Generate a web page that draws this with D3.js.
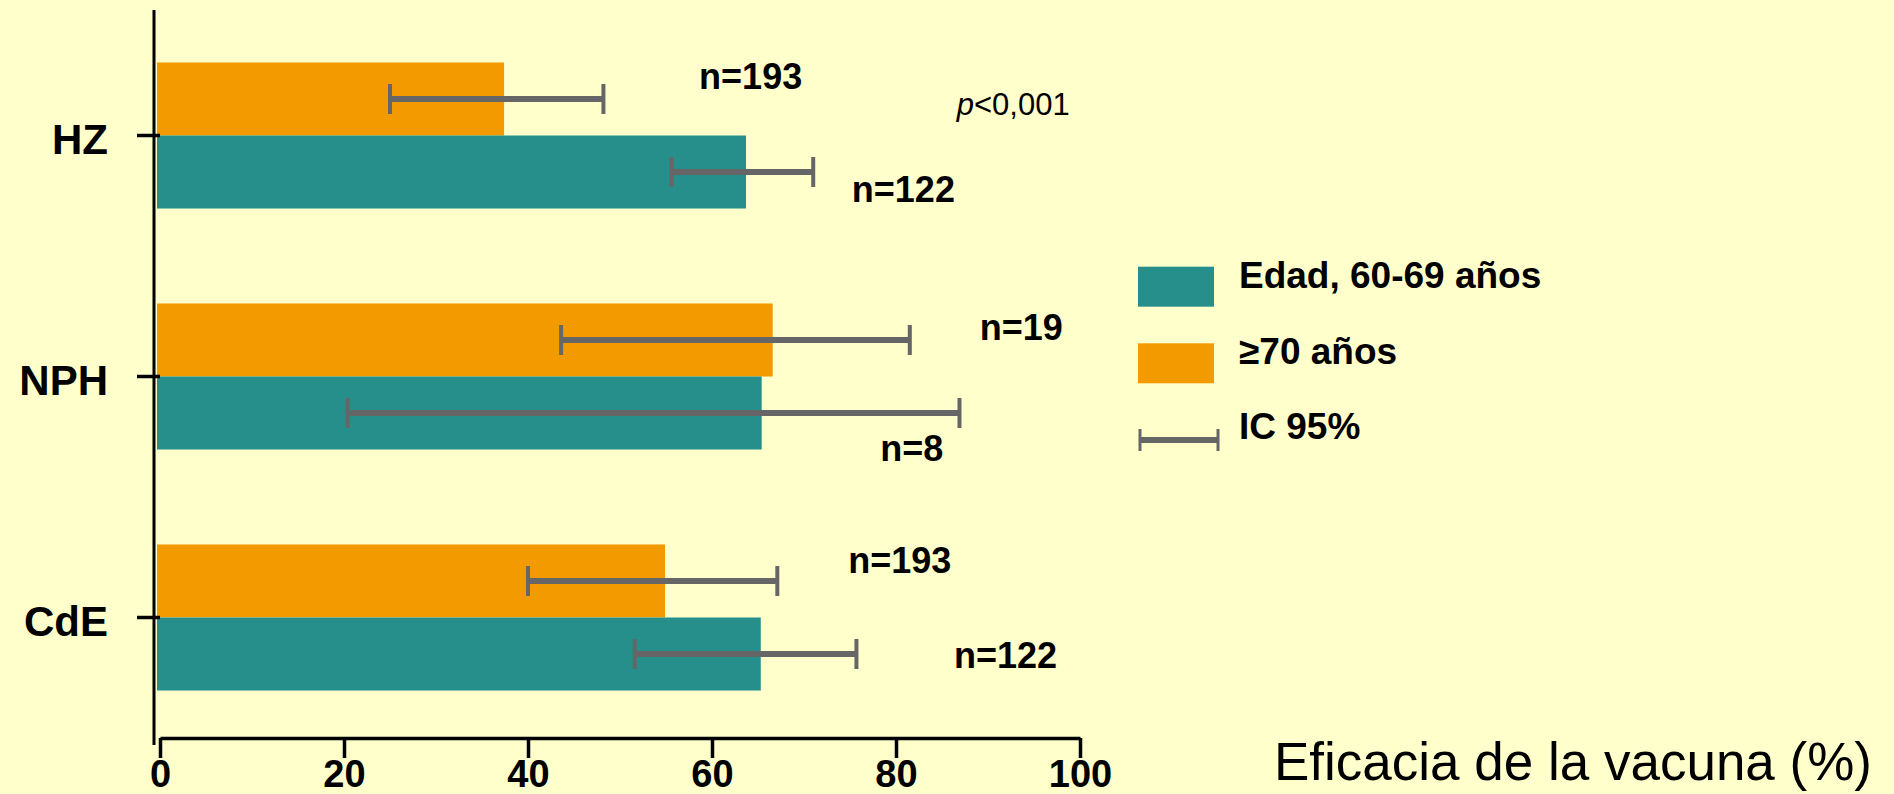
<!DOCTYPE html>
<html><head><meta charset="utf-8">
<script src="https://cdn.jsdelivr.net/npm/d3@7"></script>
<style>
html,body{margin:0;padding:0;background:#FFFFCC;}
svg{display:block;}
text{font-family:"Liberation Sans",Arial,Helvetica,sans-serif;}
</style></head><body>
<svg id="chart" width="1894" height="794"></svg>
<script>
// ---- data ----
const categories = ["HZ", "NPH", "CdE"];
const seriesLabels = ["Edad, 60-69 años", "≥70 años"];
// ≥70 años
const efficacy70 = [37.4, 66.6, 54.9];
const ciLow70 = [25.0, 43.6, 40.0];
const ciHigh70 = [48.2, 81.5, 67.1];
const n70 = [193, 19, 193];
// 60-69 años
const efficacy6069 = [63.7, 65.4, 65.3];
const ciLow6069 = [55.6, 20.4, 51.6];
const ciHigh6069 = [71.0, 86.9, 75.7];
const n6069 = [122, 8, 122];
const xTicks = [0, 20, 40, 60, 80, 100];
const pText = "<0,001";
const axisTitle = "Eficacia de la vacuna (%)";
const ciLabel = "IC 95%";

// ---- layout / style ----
const W = 1894, H = 794;
const colTeal = "#268F8C", colOrange = "#F29A00", colGray = "#666666", bg = "#FFFFCC";
// label anchors: [x in % units, dy px from bar centre]
const nLabelPos70 = [[58.6, -10], [89.1, 0], [74.8, -8]];
const nLabelPos6069 = [[75.2, 30], [78.3, 48], [86.3, 14]];

const svg = d3.select("#chart");
svg.append("rect").attr("width", W).attr("height", H).attr("fill", bg);

const x = d3.scaleLinear().domain([0, 100]).range([160, 1080]);
const y = d3.scaleBand().domain(categories).range([15, 738]).paddingInner(0.394).paddingOuter(0.197);
const inner = d3.scaleBand().domain(["70", "6069"]).range([0, y.bandwidth()]);

const rows = [];
categories.forEach((c, i) => {
  rows.push({cat: c, key: "70", v: efficacy70[i], lo: ciLow70[i], hi: ciHigh70[i], n: n70[i], pos: nLabelPos70[i], color: colOrange});
  rows.push({cat: c, key: "6069", v: efficacy6069[i], lo: ciLow6069[i], hi: ciHigh6069[i], n: n6069[i], pos: nLabelPos6069[i], color: colTeal});
});
const yc = d => y(d.cat) + inner(d.key) + inner.bandwidth() / 2;

// bars
svg.append("g").selectAll("rect").data(rows).join("rect")
  .attr("x", x(0) - 3)
  .attr("y", d => y(d.cat) + inner(d.key))
  .attr("width", d => x(d.v) - x(0) + 3)
  .attr("height", inner.bandwidth())
  .attr("fill", d => d.color);

// error bars
const eb = svg.append("g").attr("stroke", colGray);
eb.selectAll("line.h").data(rows).join("line").attr("class", "h")
  .attr("x1", d => x(d.lo)).attr("x2", d => x(d.hi))
  .attr("y1", yc).attr("y2", yc).attr("stroke-width", 6);
eb.selectAll("line.cl").data(rows).join("line").attr("class", "cl")
  .attr("x1", d => x(d.lo)).attr("x2", d => x(d.lo))
  .attr("y1", d => yc(d) - 15).attr("y2", d => yc(d) + 15).attr("stroke-width", 4);
eb.selectAll("line.ch").data(rows).join("line").attr("class", "ch")
  .attr("x1", d => x(d.hi)).attr("x2", d => x(d.hi))
  .attr("y1", d => yc(d) - 15).attr("y2", d => yc(d) + 15).attr("stroke-width", 4);

// n labels
svg.append("g").selectAll("text").data(rows).join("text")
  .attr("x", d => x(d.pos[0]))
  .attr("y", d => yc(d) + d.pos[1])
  .attr("font-size", 36).attr("font-weight", "bold").attr("fill", "#000")
  .text(d => "n=" + d.n);

// p value
const pt = svg.append("text")
  .attr("x", x(86.6)).attr("y", y("HZ") + y.bandwidth() / 2 - 21)
  .attr("font-size", 31).attr("fill", "#000");
pt.append("tspan").attr("font-style", "italic").text("p");
pt.append("tspan").text(pText);

// x axis
const xAxis = svg.append("g").attr("transform", "translate(0,738)")
  .call(d3.axisBottom(x).tickValues(xTicks).tickSize(20).tickSizeOuter(0).tickPadding(2));
xAxis.select(".domain").attr("stroke", "#000").attr("stroke-width", 3.5);
xAxis.selectAll(".tick line").attr("stroke", "#000").attr("stroke-width", 3.5);
xAxis.selectAll(".tick text").attr("font-size", 38).attr("font-weight", "bold").attr("fill", "#000")
  .attr("font-family", '"Liberation Sans",Arial,sans-serif');

// y axis
const yAxisX = 154;
svg.append("line").attr("x1", yAxisX).attr("x2", yAxisX)
  .attr("y1", y.range()[0] - 5).attr("y2", y.range()[1] + 7)
  .attr("stroke", "#000").attr("stroke-width", 3);
const yAxis = svg.append("g").attr("transform", `translate(${yAxisX},0)`)
  .call(d3.axisLeft(y).tickSize(17).tickPadding(29));
yAxis.select(".domain").remove();
yAxis.selectAll(".tick line").attr("x2", -17).attr("x1", 6).attr("stroke", "#000").attr("stroke-width", 3.5);
yAxis.selectAll(".tick text").attr("font-size", 42).attr("font-weight", "bold").attr("fill", "#000")
  .attr("dy", "0.45em")
  .attr("font-family", '"Liberation Sans",Arial,sans-serif');

// legend
const lg = svg.append("g");
const legendItems = [
  {label: seriesLabels[0], color: colTeal, y: 266.7},
  {label: seriesLabels[1], color: colOrange, y: 343.3}
];
lg.selectAll("rect").data(legendItems).join("rect")
  .attr("x", 1138).attr("y", d => d.y).attr("width", 76).attr("height", 40).attr("fill", d => d.color);
lg.selectAll("text.s").data(legendItems).join("text").attr("class", "s")
  .attr("x", 1239).attr("y", d => d.y + 21).attr("font-size", 37).attr("font-weight", "bold").text(d => d.label);
// CI legend
lg.append("line").attr("x1", 1140).attr("x2", 1218).attr("y1", 440).attr("y2", 440).attr("stroke", colGray).attr("stroke-width", 6);
lg.append("line").attr("x1", 1140).attr("x2", 1140).attr("y1", 429).attr("y2", 451).attr("stroke", colGray).attr("stroke-width", 3);
lg.append("line").attr("x1", 1218).attr("x2", 1218).attr("y1", 429).attr("y2", 451).attr("stroke", colGray).attr("stroke-width", 3);
lg.append("text").attr("x", 1239).attr("y", 439).attr("font-size", 37).attr("font-weight", "bold").text(ciLabel);

// axis title
svg.append("text").attr("x", 1872).attr("y", 780).attr("text-anchor", "end")
  .attr("font-size", 53).attr("fill", "#000").text(axisTitle);
</script>
</body></html>
